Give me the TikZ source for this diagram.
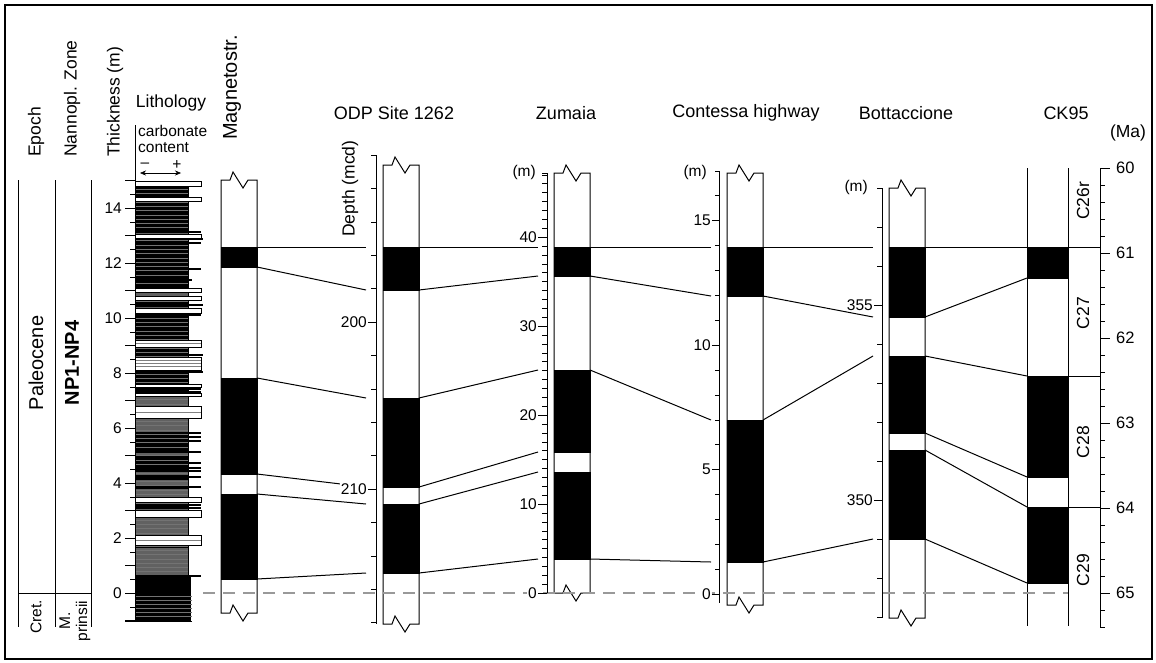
\documentclass[tikz,border=0pt]{standalone}
\usepackage{fontspec}
\setmainfont{Liberation Sans}
\usetikzlibrary{arrows.meta}

\tikzset{
  lbl/.style={font=\fontsize{17.5}{19}\selectfont},
  ttl/.style={font=\fontsize{18}{20}\selectfont},
  num/.style={font=\fontsize{15.5}{17}\selectfont, inner sep=1pt},
  rev/.style={draw, fill=black, minimum width=36pt, inner sep=0pt, outer sep=0pt},
  corr/.style={line width=1pt},
  bed/.style={draw, fill=white, line width=0.8pt},
  seam/.style={line width=1.5pt},
  hair/.style={black!55, line width=0.6pt},
}
\newcommand{\brokencol}[3]{%
  \draw[line width=1pt] (#1,#2) -- ++(9,0) -- ++(3,-8) -- ++(10,16) -- ++(5,-8) -- ++(9,0)
    -- (#1+36,#3) -- ++(-9,0) -- ++(-5,8) -- ++(-10,-16) -- ++(-3,8) -- ++(-9,0) -- cycle;}

\begin{document}
\begin{tikzpicture}[x=1pt,y=-1pt]
\useasboundingbox (0,0) rectangle (1156,662);
\fill[white] (0,0) rectangle (1156,662);
\draw[line width=2pt] (5,5) rectangle (1152,659);

% epoch and zone columns
\draw[line width=0.8pt] (18,180) -- (18,627) (55,180) -- (55,627) (91,180) -- (91,627) (18,593) -- (91,593);
\node[lbl, rotate=90, anchor=west, inner sep=0pt] (epoch) at (36,157) {Epoch};
\node[lbl, rotate=90, anchor=west, inner sep=0pt] (nanno) at (72,157) {Nannopl. Zone};
\node[lbl, rotate=90, anchor=west, inner sep=0pt] (thick) at (115,157) {Thickness (m)};
\node[font=\fontsize{20}{22}\selectfont, rotate=90, anchor=west, inner sep=0pt] (magn) at (232,140) {Magnetostr.};
\node[lbl] (litho) at (171,103) {Lithology};
\node[font=\fontsize{20}{22}\selectfont, rotate=90] (paleo) at (36,363) {Paleocene};
\node[font=\fontsize{20}{22}\selectfont\bfseries, rotate=90] (np) at (72,363) {NP1-NP4};
\node[num, rotate=90] (cret) at (36,617) {Cret.};
\node[num, rotate=90, align=center, inner sep=0pt] (prin) at (75,621) {M.\\prinsii};

% carbonate content key
\node[num, align=left, anchor=north west, inner sep=0pt, font=\fontsize{15.5}{16}\selectfont] (carb) at (138,125) {carbonate\\content};
\node[num, inner sep=0pt] (minus) at (145,165.5) {--};
\node[num, inner sep=0pt] (plus) at (177,165.5) {+};
\draw[{Stealth[length=6pt,width=5pt]}-{Stealth[length=6pt,width=5pt]}] (140,173) -- (181,173);

% lithology
\fill[black!62] (135,186) rectangle (188,577);
\foreach \a/\b in {187/197,201/232,238/288,301/307,314/340,348/357,371/384,388/393,432/452,456/472,475/480,486/489,502/509,545/548}
  \fill[black] (135,\a) rectangle (188,\b);
\foreach \y in {189,193.3,...,575} \draw[hair] (135,\y) -- (188,\y);
\fill[black] (135,577) rectangle (191,621);
\foreach \y in {596,600,...,619} \draw[hair] (135,\y) -- (192,\y);
\draw (188,186) -- (188,577);
\foreach \y/\r in {232/201,239/203,243/201,269/201,280/192,305/203,315/201,355/203,372/203,389/201,392/201,433/201,437/201,441/201,452/201,463/201,468/201,471/201,477/201,487/201,502/201,505/201,508/201,545/201,576/201}
  \draw[seam] (135,\y) -- (\r,\y);
\foreach \a/\b in {181/186,197/201,234/238,288/292,296/300,308/313,340/347,357/370,384/387,393/396,406/418,497/502,510/517,535/545}
  \draw[bed] (135,\a) rectangle (201,\b);
\foreach \y in {343.5,360,363,366,412,540}
  \draw[black!50] (135,\y) -- (201,\y);
\draw (125,621) -- (192,621);

% thickness axis
\draw (135,125) -- (135,621);
\foreach \m in {-1,...,15} \draw (135,593-27.5*\m) -- ++(-10,0);
\foreach \m in {-0.5,0.5,...,14.5} \draw (135,593-27.5*\m) -- ++(-5,0);
\foreach \m in {0,2,...,14} \node[num, anchor=east] (th\m) at (123,593-27.5*\m) {\m};

% polarity blocks
\node[rev, minimum height=20pt] (m1) at (239,257) {};
\node[rev, minimum height=96pt] (m2) at (239,426) {};
\node[rev, minimum height=85pt] (m3) at (239,536.5) {};
\node[rev, minimum height=43pt] (o1) at (401,268.5) {};
\node[rev, minimum height=89pt] (o2) at (401,442.5) {};
\node[rev, minimum height=69pt] (o3) at (401,538.5) {};
\node[rev, minimum height=29pt] (z1) at (572,261.5) {};
\node[rev, minimum height=82pt] (z2) at (572,411) {};
\node[rev, minimum height=87pt] (z3) at (572,515.5) {};
\node[rev, minimum height=49pt] (c1) at (745,271.5) {};
\node[rev, minimum height=142pt] (c2) at (745,491) {};
\node[rev, minimum height=70pt] (b1) at (907,282) {};
\node[rev, minimum height=77pt] (b2) at (907,394.5) {};
\node[rev, minimum height=89pt] (b3) at (907,494.5) {};
\node[rev, minimum width=41pt, minimum height=31pt] (k1) at (1047.5,262.5) {};
\node[rev, minimum width=41pt, minimum height=101pt] (k2) at (1047.5,426.5) {};
\node[rev, minimum width=41pt, minimum height=76pt] (k3) at (1047.5,545) {};

\brokencol{221}{180}{613}
\brokencol{383}{165}{624}
\brokencol{554}{173}{593}
\brokencol{727}{173}{605}
\brokencol{889}{188}{618}
\draw[line width=1pt] (1027,168) -- (1027,626) (1068,168) -- (1068,626);

% correlation lines
\draw[corr] (m1.north east) -- ([xshift=-17pt]o1.north west);
\draw[corr] (m1.south east) -- ([xshift=-17pt]o1.south west);
\draw[corr] (m2.north east) -- ([xshift=-17pt]o2.north west);
\draw[corr] (m2.south east) -- ([xshift=-17pt]o2.south west);
\draw[corr] (m3.north east) -- ([xshift=-17pt]o3.north west);
\draw[corr] (m3.south east) -- ([xshift=-17pt]o3.south west);
\draw[corr] (o1.north east) -- ([xshift=-16pt]z1.north west);
\draw[corr] (o1.south east) -- ([xshift=-16pt]z1.south west);
\draw[corr] (o2.north east) -- ([xshift=-16pt]z2.north west);
\draw[corr] (o2.south east) -- ([xshift=-16pt]z2.south west);
\draw[corr] (o3.north east) -- ([xshift=-16pt]z3.north west);
\draw[corr] (o3.south east) -- ([xshift=-16pt]z3.south west);
\draw[corr] (z1.north east) -- ([xshift=-16pt]c1.north west);
\draw[corr] (z1.south east) -- ([xshift=-16pt]c1.south west);
\draw[corr] (z2.north east) -- ([xshift=-16pt]c2.north west);
\draw[corr] (z3.south east) -- ([xshift=-16pt]c2.south west);
\draw[corr] (c1.north east) -- ([xshift=-16pt]b1.north west);
\draw[corr] (c1.south east) -- ([xshift=-16pt]b1.south west);
\draw[corr] (c2.north east) -- ([xshift=-16pt]b2.north west);
\draw[corr] (c2.south east) -- ([xshift=-16pt]b3.south west);
\draw[corr] (b1.north east) -- (k1.north west);
\draw[corr] (b1.south east) -- (k1.south west);
\draw[corr] (b2.north east) -- (k2.north west);
\draw[corr] (b2.south east) -- (k2.south west);
\draw[corr] (b3.north east) -- (k3.north west);
\draw[corr] (b3.south east) -- (k3.south west);
\coordinate (agetop) at (1100,168);
\draw[corr] (k1.north east) -- (k1.north east -| agetop);
\draw[corr] (k2.north east) -- (k2.north east -| agetop);
\draw[corr] (k3.north east) -- (k3.north east -| agetop);

% K/Pg level
\draw[black!40, line width=2.5pt, dash pattern=on 12pt off 8pt] (203,593) -- (1068,593);

% ODP axis
\draw (376,155) -- (376,624);
\foreach \d in {190,192,...,218} \draw (376,{155+16.7*(\d-190)}) -- ++(-5,0);
\foreach \d in {200,210} \draw (376,{155+16.7*(\d-190)}) -- ++(-8,0) node[num, left, fill=white] (odp\d) {\d};
\node[lbl, rotate=90, anchor=west, inner sep=0pt] (depth) at (350,237) {Depth (mcd)};

% Zumaia axis
\draw (547,173) -- (547,593) (547,173) -- ++(-5,0);
\foreach \k in {0,...,47} \draw (547,593-8.9*\k) -- ++(-5,0);
\foreach \k in {0,10,...,40} \draw (547,593-8.9*\k) -- ++(-9,0) node[num, left, fill=white] (zum\k) {\k};
\node[num, anchor=east] (zm) at (537,172) {(m)};

% Contessa axis
\draw (719,171) -- (719,603);
\foreach \k in {0,...,17} \draw (719,594-24.9*\k) -- ++(-4,0);
\foreach \k in {0,5,10,15} \draw (719,594-24.9*\k) -- ++(-7,0) node[num, left, fill=white] (con\k) {\k};
\node[num, anchor=east] (cm) at (708,172) {(m)};

% Bottaccione axis
\draw (882,188) -- (882,618);
\foreach \h in {347,...,358} \draw (882,{500-39*(\h-350)}) -- ++(-5,0);
\foreach \h in {350,355} \draw (882,{500-39*(\h-350)}) -- ++(-8,0) node[num, left, fill=white] (bot\h) {\h};
\node[num, anchor=east] (bm) at (869,187) {(m)};

% age axis
\draw (1100,168) -- (1100,628);
\foreach \k in {0,...,27} \draw (1100,168+17*\k) -- ++(5,0);
\foreach \a in {60,...,65} \draw (1100,{168+85*(\a-60)}) -- ++(10,0) node[num, right, inner sep=6pt, font=\fontsize{16.5}{18}\selectfont] (age\a) {\a};
\node[lbl, rotate=90] (c26r) at (1083,201) {C26r};
\node[lbl, rotate=90] (c27) at (1083,313) {C27};
\node[lbl, rotate=90] (c28) at (1083,442) {C28};
\node[lbl, rotate=90] (c29) at (1083,570) {C29};

% titles
\node[ttl] (odp) at (394,113) {ODP Site 1262};
\node[ttl] (zum) at (566,113) {Zumaia};
\node[ttl] (con) at (746,113) {Contessa highway};
\node[ttl] (bot) at (906,113) {Bottaccione};
\node[ttl] (ck) at (1066,113) {CK95};
\node[lbl] (ma) at (1128,133) {(Ma)};
\end{tikzpicture}
\end{document}
